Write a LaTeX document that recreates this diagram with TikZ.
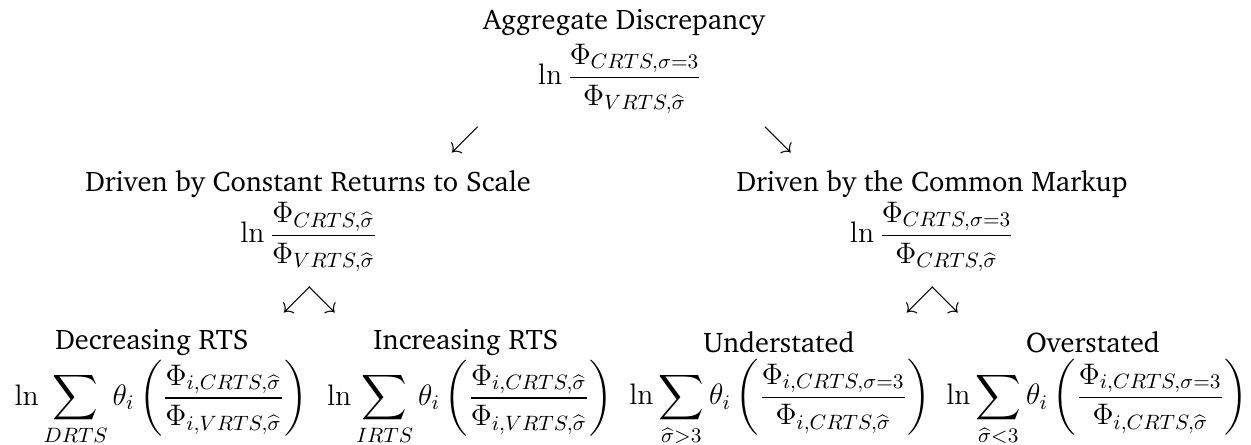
\RequirePackage{fix-cm}
\documentclass[tikz,border=0pt]{standalone}
\usepackage{amsmath}
\usepackage[T1]{fontenc}
\usepackage{charter}
\usepackage{tikz}
\usetikzlibrary{positioning}

\tikzset{
  ttl/.style={font=\fontsize{12.9}{15.5}\selectfont},
  frm/.style={font=\fontsize{13.5}{16.2}\selectfont}
}

\begin{document}
\begin{tikzpicture}[scale=0.16]
\tikzstyle{every node}+=[inner sep=0pt]
\useasboundingbox (0,0) rectangle (125.1,-44.4);
\node [ttl] (agg) at (62.4,-2.2) {Aggregate Discrepancy};
\node [frm] (aggf) at (62.0,-7.9) {$\ln\dfrac{\Phi_{CRTS,\sigma=3}}{\Phi_{VRTS,\widehat{\sigma}}}$};
\node [frm] (al) at (46.5,-14.0) {$\swarrow$};
\node [frm] (ar) at (77.8,-14.0) {$\searrow$};
\node [ttl] (crs) at (30.8,-18.4) {Driven by Constant Returns to Scale};
\node [frm] (crsf) at (30.9,-23.7) {$\ln\dfrac{\Phi_{CRTS,\widehat{\sigma}}}{\Phi_{VRTS,\widehat{\sigma}}}$};
\node [frm] (crsa) at (31.0,-30.0) {$\swarrow\!\searrow$};
\node [ttl] (mk) at (93.2,-18.4) {Driven by the Common Markup};
\node [frm] (mkf) at (93.2,-23.7) {$\ln\dfrac{\Phi_{CRTS,\sigma=3}}{\Phi_{CRTS,\widehat{\sigma}}}$};
\node [frm] (mka) at (93.3,-30.0) {$\swarrow\!\searrow$};
\node [ttl] (dec) at (15.2,-34.2) {Decreasing RTS};
\node [frm] (decf) at (16.1,-40.3) {$\ln\displaystyle\sum_{DRTS}\theta_i\left(\dfrac{\Phi_{i,CRTS,\widehat{\sigma}}}{\Phi_{i,VRTS,\widehat{\sigma}}}\right)$};
\node [ttl] (inc) at (46.6,-34.2) {Increasing RTS};
\node [frm] (incf) at (47.0,-40.3) {$\ln\displaystyle\sum_{IRTS}\theta_i\left(\dfrac{\Phi_{i,CRTS,\widehat{\sigma}}}{\Phi_{i,VRTS,\widehat{\sigma}}}\right)$};
\node [ttl] (und) at (77.9,-34.2) {Understated};
\node [frm] (undf) at (78.0,-40.3) {$\ln\displaystyle\sum_{\widehat{\sigma}>3}\theta_i\left(\dfrac{\Phi_{i,CRTS,\sigma=3}}{\Phi_{i,CRTS,\widehat{\sigma}}}\right)$};
\node [ttl] (ovr) at (109.3,-34.2) {Overstated};
\node [frm] (ovrf) at (109.7,-40.3) {$\ln\displaystyle\sum_{\widehat{\sigma}<3}\theta_i\left(\dfrac{\Phi_{i,CRTS,\sigma=3}}{\Phi_{i,CRTS,\widehat{\sigma}}}\right)$};
\end{tikzpicture}
\end{document}
